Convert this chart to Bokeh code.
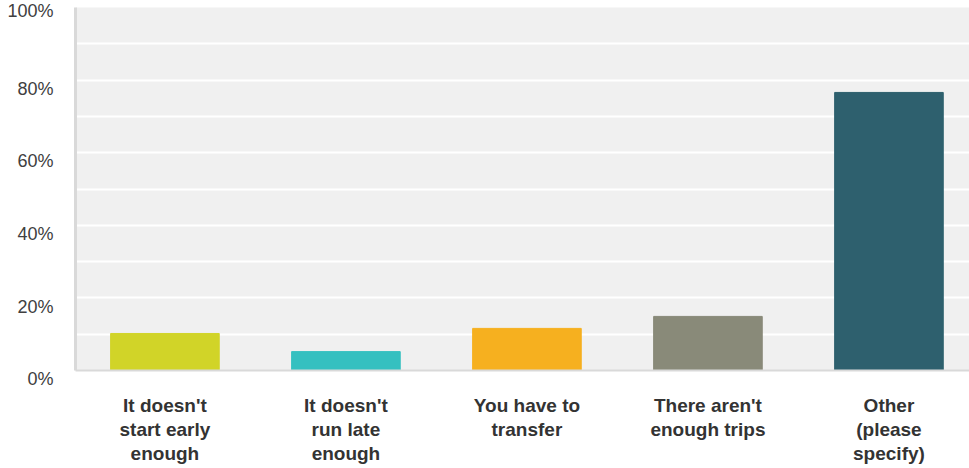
from bokeh.plotting import figure
from bokeh.models import Range1d, FixedTicker, ColumnDataSource
from bokeh.embed import file_html
from bokeh.resources import INLINE

categories = ["It doesn't\nstart early\nenough", "It doesn't\nrun late\nenough",
              "You have to\ntransfer", "There aren't\nenough trips", "Other\n(please\nspecify)"]
values = [10.2, 5.2, 11.6, 14.9, 76.6]
colors = ["#d1d428", "#35c0c0", "#f6b01f", "#898a79", "#2e606e"]
y_ticks = [0, 20, 40, 60, 80, 100]
y_tick_labels = {t: (f"{t}%" if t == 100 else f"\n{t}%") for t in y_ticks}

xs = list(range(len(categories)))
src = ColumnDataSource(dict(x=xs, top=values, color=colors))

p = figure(width=969, height=468, output_backend="svg", toolbar_location=None,
           x_range=Range1d(-0.494, 4.445), y_range=Range1d(0, 100),
           min_border_left=75, min_border_right=0, min_border_top=7, min_border_bottom=98)
p.background_fill_color = "#f0f0f0"
p.border_fill_color = "white"
p.outline_line_color = None

p.vbar(x="x", top="top", width=0.6, bottom=0, color="color", source=src)

p.xgrid.visible = False
p.ygrid.ticker = FixedTicker(ticks=list(range(0, 101, 10)))
p.ygrid.grid_line_color = "white"
p.ygrid.grid_line_width = 2

p.yaxis.ticker = FixedTicker(ticks=y_ticks)
p.yaxis.major_label_overrides = y_tick_labels
p.yaxis.major_tick_line_color = None
p.yaxis.minor_tick_line_color = None
p.yaxis.axis_line_color = "#d9d9d9"
p.yaxis.axis_line_width = 3
p.yaxis.major_label_text_font = "Liberation Sans"
p.yaxis.major_label_text_font_size = "18px"
p.yaxis.major_label_text_color = "#404040"
p.yaxis.major_label_standoff = 16
p.yaxis.major_label_text_line_height = 0.87

p.xaxis.ticker = FixedTicker(ticks=xs)
p.xaxis.major_label_overrides = {i: c for i, c in enumerate(categories)}
p.xaxis.major_label_text_font = "Liberation Sans"
p.xaxis.major_label_text_font_size = "19px"
p.xaxis.major_label_text_font_style = "bold"
p.xaxis.major_label_text_color = "#333333"
p.xaxis.major_label_text_line_height = 1.144
p.xaxis.major_label_standoff = 18
p.xaxis.major_tick_line_color = None
p.xaxis.minor_tick_line_color = None
p.xaxis.axis_line_color = "#d9d9d9"
p.xaxis.axis_line_width = 2

open("out.html", "w").write(file_html(p, INLINE))
